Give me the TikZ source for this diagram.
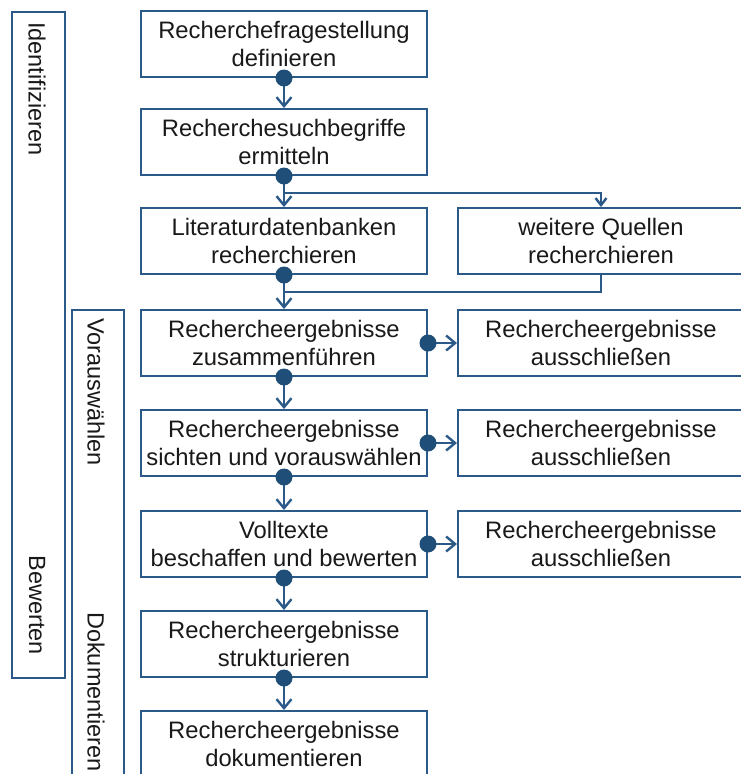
\documentclass[tikz,border=0pt]{standalone}
\usepackage{fontspec}
\setmainfont{Liberation Sans}
\usetikzlibrary{arrows.meta,calc}
\definecolor{lineblue}{HTML}{2B5A88}
\definecolor{dotblue}{HTML}{1F4E79}
\tikzset{
  box/.style={draw=lineblue, line width=2pt, rectangle, minimum width=286pt, minimum height=66pt,
    align=center, inner sep=0pt, font=\fontsize{23.8}{28}\selectfont, text=black!90},
  sidebar/.style={draw=lineblue, line width=2pt},
  sidelabel/.style={rotate=-90, inner sep=0pt, font=\fontsize{23.5}{28}\selectfont, text=black!90},
  conn/.style={draw=lineblue, line width=2.4pt, -{Straight Barb[length=9pt,width=15pt,line width=2.4pt]}},
  plainconn/.style={draw=lineblue, line width=2.4pt},
  dotmark/.style={fill=dotblue}
}
\begin{document}
\begin{tikzpicture}[x=1pt,y=-1pt]
\useasboundingbox (0,0) rectangle (741,774);
\clip (0,0) rectangle (741,774);
% side bars
\draw[sidebar] (12,12) rectangle (65,678);
\node[sidelabel, anchor=west] (lid) at (37,22) {Identifizieren};
\node[sidelabel, anchor=east] (lbe) at (37,655) {Bewerten};
\draw[sidebar] (72,790) -- (72,310) -- (124,310) -- (124,790);
\node[sidelabel, anchor=west] (lvo) at (96,318) {Vorauswählen};
\node[sidelabel, anchor=west] (ldo) at (96,612) {Dokumentieren};
% main boxes
\node[box] (b1) at (284,44) {Recherchefragestellung\\definieren};
\node[box] (b2) at (284,142) {Recherchesuchbegriffe\\ermitteln};
\node[box] (b3) at (284,241) {Literaturdatenbanken\\recherchieren};
\node[box] (b4) at (284,343) {Rechercheergebnisse\\zusammenführen};
\node[box] (b5) at (284,443) {Rechercheergebnisse\\sichten und vorauswählen};
\node[box] (b6) at (284,544) {Volltexte\\beschaffen und bewerten};
\node[box] (b7) at (284,644) {Rechercheergebnisse\\strukturieren};
\node[box] (b8) at (284,744) {Rechercheergebnisse\\dokumentieren};
% right boxes
\node[box] (q) at (601,241) {weitere Quellen\\recherchieren};
\node[box] (r1) at (601,343) {Rechercheergebnisse\\ausschließen};
\node[box] (r2) at (601,443) {Rechercheergebnisse\\ausschließen};
\node[box] (r3) at (601,544) {Rechercheergebnisse\\ausschließen};
% junctions
\coordinate (j1) at (284,193);
\coordinate (j2) at (284,292);
% connectors
\draw[conn] (b1.south) -- (b2.north);
\draw[conn] (b2.south) -- (b3.north);
\draw[conn, -{Straight Barb[length=7pt,width=11pt,line width=2.4pt]}] (j1) -| (q.north);
\draw[conn] (b3.south) -- (b4.north);
\draw[plainconn] (q.south) |- (j2);
\draw[conn] (b4.south) -- (b5.north);
\draw[conn] (b5.south) -- (b6.north);
\draw[conn] (b6.south) -- (b7.north);
\draw[conn] (b7.south) -- (b8.north);
\draw[conn] (b4.east) -- (r1.west);
\draw[conn] (b5.east) -- (r2.west);
\draw[conn] (b6.east) -- (r3.west);
% dots
\foreach \n in {b1.south,b2.south,b3.south,b4.south,b5.south,b6.south,b7.south,b4.east,b5.east,b6.east}
  \fill[dotblue] (\n) circle (8.5pt);
\end{tikzpicture}
\end{document}
